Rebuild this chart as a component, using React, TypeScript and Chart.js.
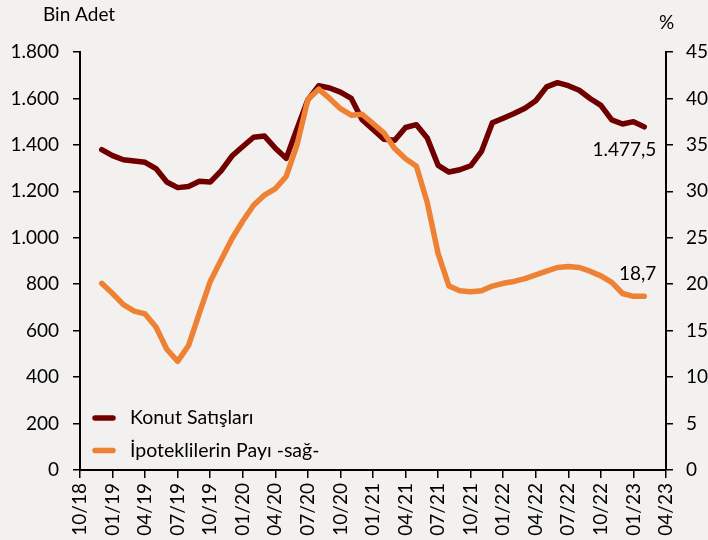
import React, { useEffect, useRef } from 'react';
import { Chart, registerables } from 'chart.js';

Chart.register(...registerables);

// ---- DATA ----
const months = [
  '12/18',
  '01/19', '02/19', '03/19', '04/19', '05/19', '06/19', '07/19', '08/19', '09/19', '10/19', '11/19', '12/19',
  '01/20', '02/20', '03/20', '04/20', '05/20', '06/20', '07/20', '08/20', '09/20', '10/20', '11/20', '12/20',
  '01/21', '02/21', '03/21', '04/21', '05/21', '06/21', '07/21', '08/21', '09/21', '10/21', '11/21', '12/21',
  '01/22', '02/22', '03/22', '04/22', '05/22', '06/22', '07/22', '08/22', '09/22', '10/22', '11/22', '12/22',
  '01/23', '02/23',
];

// Konut Satışları (Bin Adet, 12-month total)
const konutSatislari = [
  1380,
  1354, 1336, 1331, 1325, 1298, 1240, 1216, 1221, 1243, 1240, 1288, 1352,
  1393, 1433, 1438, 1386, 1342, 1470, 1594, 1655, 1645, 1627, 1600, 1508,
  1466, 1424, 1420, 1475, 1487, 1430, 1312, 1283, 1293, 1310, 1372, 1495,
  1515, 1535, 1558, 1590, 1650, 1668, 1655, 1635, 1600, 1570, 1508, 1490,
  1500, 1477.5,
];

// İpoteklilerin Payı (%), right axis
const ipoteklilerinPayi = [
  20.1,
  19.0, 17.8, 17.1, 16.8, 15.4, 13.0, 11.7, 13.4, 16.9, 20.3, 22.6, 24.9,
  26.8, 28.5, 29.6, 30.3, 31.6, 35.0, 39.9, 41.0, 40.0, 38.9, 38.2, 38.3,
  37.3, 36.3, 34.6, 33.5, 32.7, 28.8, 23.3, 19.8, 19.3, 19.2, 19.3, 19.8,
  20.1, 20.3, 20.6, 21.0, 21.4, 21.8, 21.9, 21.8, 21.4, 20.9, 20.2, 19.0,
  18.7, 18.7,
];

const xTickLabels = [
  '10/18', '01/19', '04/19', '07/19', '10/19', '01/20', '04/20', '07/20', '10/20', '01/21',
  '04/21', '07/21', '10/21', '01/22', '04/22', '07/22', '10/22', '01/23', '04/23',
];

const seriesNames = ['Konut Satışları', 'İpoteklilerin Payı -sağ-'];
const leftAxisTitle = 'Bin Adet';
const rightAxisTitle = '%';

// ---- helpers ----
function monthIndex(label: string): number {
  const [mm, yy] = label.split('/').map(Number);
  return (yy - 18) * 12 + (mm - 10);
}
function fmtThousands(n: number): string {
  return Math.round(n).toString().replace(/\B(?=(\d{3})+(?!\d))/g, '.');
}
function fmtDecimal(n: number, dec: number): string {
  const [i, d] = n.toFixed(dec).split('.');
  return fmtThousands(Number(i)) + ',' + d;
}

const FONT = 'Lato, Carlito, "Open Sans", sans-serif';
const DARK = '#700000';
const ORANGE = '#EE8133';
const BG = '#F2F1EF';

export default function App() {
  const ref = useRef<HTMLCanvasElement | null>(null);

  useEffect(() => {
    if (!ref.current) return;
    const xs = months.map(monthIndex);

    const bgPlugin = {
      id: 'bg',
      beforeDraw(chart: any) {
        const { ctx, width, height } = chart;
        ctx.save();
        ctx.fillStyle = BG;
        ctx.fillRect(0, 0, width, height);
        ctx.restore();
      },
    };

    const annoPlugin = {
      id: 'anno',
      afterDraw(chart: any) {
        const ctx = chart.ctx;
        ctx.save();
        ctx.font = `19px ${FONT}`;
        ctx.fillStyle = '#000';
        ctx.textBaseline = 'middle';
        // axis titles
        ctx.textAlign = 'left';
        ctx.fillText(leftAxisTitle, 43, 15);
        ctx.fillText(rightAxisTitle, 659, 23);

        // legend
        ctx.font = `19.5px ${FONT}`;
        chart.data.datasets.forEach((ds: any, i: number) => {
          const y = 418 + i * 32.5;
          ctx.strokeStyle = ds.borderColor;
          ctx.lineWidth = 5.5;
          ctx.lineCap = 'round';
          ctx.beginPath();
          ctx.moveTo(95, y);
          ctx.lineTo(113, y);
          ctx.stroke();
          ctx.fillStyle = '#000';
          ctx.textAlign = 'left';
          ctx.fillText(ds.label, 130, y);
        });

        // last value labels
        ctx.font = `19px ${FONT}`;
        const offsets = [23, -22];
        const decs = [1, 1];
        chart.data.datasets.forEach((ds: any, i: number) => {
          const meta = chart.getDatasetMeta(i);
          const pts = meta.data;
          const last = pts[pts.length - 1];
          const val = ds.data[ds.data.length - 1].y;
          ctx.textAlign = 'right';
          ctx.fillStyle = '#000';
          ctx.fillText(fmtDecimal(val, decs[i]), last.x + 12, last.y + offsets[i]);
        });
        ctx.restore();
      },
    };

    const chart = new Chart(ref.current, {
      type: 'line',
      data: {
        datasets: [
          {
            label: seriesNames[0],
            data: konutSatislari.map((v, i) => ({ x: xs[i], y: v })),
            borderColor: DARK,
            backgroundColor: DARK,
            borderWidth: 5.5,
            pointRadius: 0,
            tension: 0,
            borderCapStyle: 'round',
            borderJoinStyle: 'round',
            yAxisID: 'y',
            order: 1,
          },
          {
            label: seriesNames[1],
            data: ipoteklilerinPayi.map((v, i) => ({ x: xs[i], y: v })),
            borderColor: ORANGE,
            backgroundColor: ORANGE,
            borderWidth: 5.5,
            pointRadius: 0,
            tension: 0,
            borderCapStyle: 'round',
            borderJoinStyle: 'round',
            yAxisID: 'y1',
            order: 0,
          },
        ],
      },
      options: {
        animation: false,
        responsive: false,
        maintainAspectRatio: false,
        layout: { padding: { top: 52, left: 0, right: 0, bottom: 0 } },
        plugins: {
          legend: { display: false },
          tooltip: { enabled: false },
        },
        scales: {
          x: {
            type: 'linear',
            min: monthIndex(xTickLabels[0]),
            max: monthIndex(xTickLabels[xTickLabels.length - 1]),
            afterBuildTicks: (scale: any) => {
              scale.ticks = xTickLabels.map((l) => ({ value: monthIndex(l) }));
            },
            afterFit: (scale: any) => {
              scale.height = 70;
            },
            ticks: {
              autoSkip: false,
              maxRotation: 90,
              minRotation: 90,
              padding: 5,
              color: '#000',
              font: { family: FONT, size: 19 },
              callback: (value: any) => {
                const l = xTickLabels.find((t) => monthIndex(t) === value);
                return l ?? '';
              },
            },
            grid: {
              drawOnChartArea: false,
              drawTicks: true,
              tickLength: 8,
              color: '#000',
              lineWidth: 1.5,
            },
            border: { display: true, color: '#000', width: 2 },
          },
          y: {
            type: 'linear',
            position: 'left',
            min: 0,
            max: 1800,
            afterFit: (scale: any) => {
              scale.width = 80;
            },
            ticks: {
              stepSize: 200,
              padding: 14,
              color: '#000',
              font: { family: FONT, size: 19 },
              callback: (v: any) => fmtThousands(Number(v)),
            },
            grid: {
              drawOnChartArea: false,
              drawTicks: true,
              tickLength: 7,
              color: '#000',
              lineWidth: 1.5,
            },
            border: { display: true, color: '#000', width: 2 },
          },
          y1: {
            type: 'linear',
            position: 'right',
            min: 0,
            max: 45,
            afterFit: (scale: any) => {
              scale.width = 42;
            },
            ticks: {
              stepSize: 5,
              padding: 13,
              color: '#000',
              font: { family: FONT, size: 19 },
              callback: (v: any) => String(v),
            },
            grid: {
              drawOnChartArea: false,
              drawTicks: true,
              tickLength: 7,
              color: '#000',
              lineWidth: 1.5,
            },
            border: { display: true, color: '#000', width: 2 },
          },
        },
      },
      plugins: [bgPlugin, annoPlugin],
    } as any);

    return () => chart.destroy();
  }, []);

  return (
    <div style={{ position: 'fixed', left: 0, top: 0, width: 708, height: 540, background: BG }}>
      <canvas ref={ref} width={708} height={540} style={{ width: 708, height: 540, display: 'block' }} />
    </div>
  );
}
